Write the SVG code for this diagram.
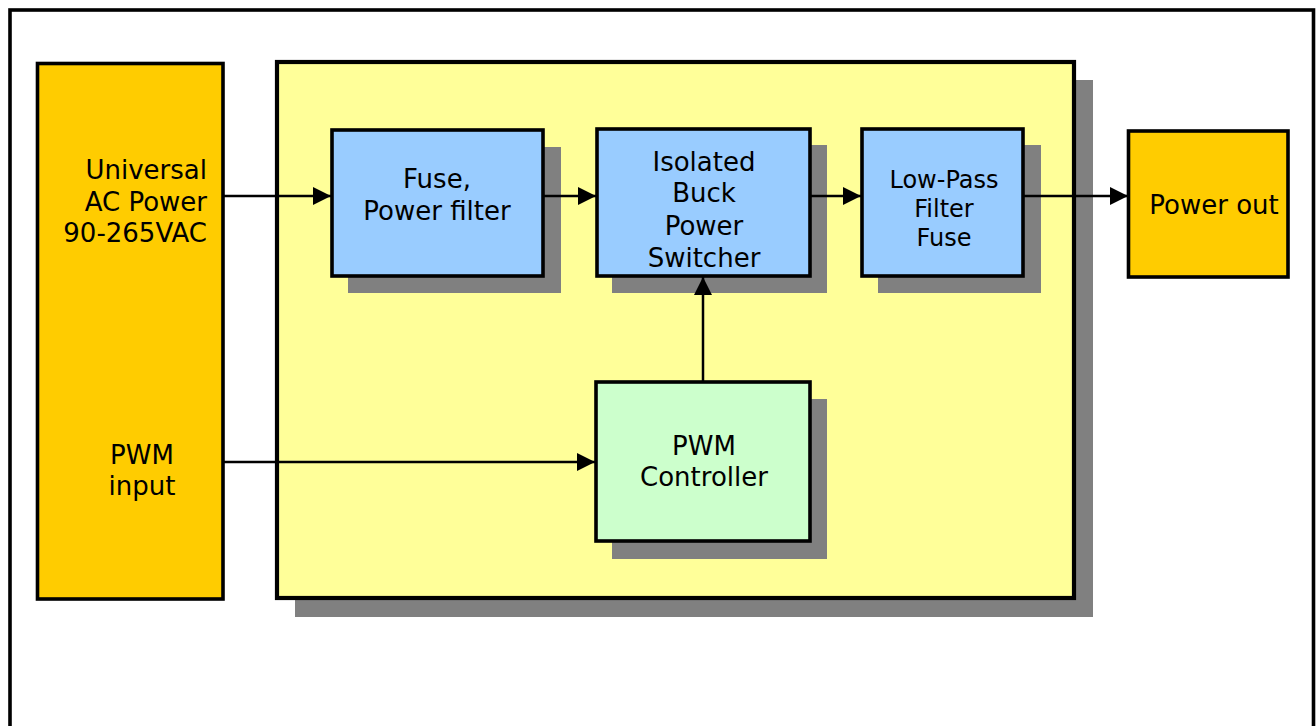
<svg xmlns="http://www.w3.org/2000/svg" width="1316" height="726" viewBox="0 0 1316 726">
<style>
  .box { stroke: #000; stroke-width: 3.6; }
  .shadow { fill: #808080; stroke: none; }
  .orange { fill: #FFCC00; }
  .yellow { fill: #FFFF99; stroke-width: 4.2; }
  .blue { fill: #99CCFF; }
  .green { fill: #CCFFCC; }
  .t { font-family: "DejaVu Sans", Verdana, sans-serif; font-size: 26px; fill: #000; }
  .ts { font-size: 24px; }
  .mid { text-anchor: middle; }
  .end { text-anchor: end; }
  .wire { stroke: #000; stroke-width: 2.5; fill: none; }
</style>
<defs>
  <marker id="arr" viewBox="0 0 18 18" refX="18" refY="9" markerWidth="18" markerHeight="18" markerUnits="userSpaceOnUse" orient="auto">
    <path d="M0,0 L18,9 L0,18 z" fill="#000"/>
  </marker>
</defs>
<rect x="0" y="0" width="1316" height="726" fill="#fff"/>
<rect id="frame" x="10" y="10" width="1303.5" height="800" fill="none" stroke="#000" stroke-width="3.6"/>

<g id="container">
  <rect class="shadow" x="295" y="80" width="798" height="537"/>
  <rect class="box yellow" x="277" y="62" width="797" height="536"/>
</g>

<g id="inputs">
  <rect class="box orange" x="37.5" y="63.5" width="185.5" height="535.5"/>
  <text class="t end" x="207" y="179">Universal</text>
  <text class="t end" x="207" y="210.5">AC Power</text>
  <text class="t end" x="207" y="242">90-265VAC</text>
  <text class="t mid" x="142" y="464">PWM</text>
  <text class="t mid" x="142" y="495">input</text>
</g>

<g id="fuse">
  <rect class="shadow" x="348" y="147" width="213" height="146"/>
  <rect class="box blue" x="332" y="130" width="211" height="146"/>
  <text class="t mid" x="437" y="188">Fuse,</text>
  <text class="t mid" x="437" y="220">Power filter</text>
</g>

<g id="buck">
  <rect class="shadow" x="612" y="145" width="215" height="148"/>
  <rect class="box blue" x="597" y="129" width="213" height="147"/>
  <text class="t mid" x="704" y="170.5">Isolated</text>
  <text class="t mid" x="704" y="202">Buck</text>
  <text class="t mid" x="704" y="235">Power</text>
  <text class="t mid" x="704" y="267">Switcher</text>
</g>

<g id="lowpass">
  <rect class="shadow" x="878" y="145" width="163" height="148"/>
  <rect class="box blue" x="862" y="129" width="161" height="147"/>
  <text class="t ts mid" x="944" y="188">Low-Pass</text>
  <text class="t ts mid" x="944" y="217">Filter</text>
  <text class="t ts mid" x="944" y="246">Fuse</text>
</g>

<g id="powerout">
  <rect class="box orange" x="1128.5" y="131" width="159.5" height="146"/>
  <text class="t mid" x="1214" y="214">Power out</text>
</g>

<g id="pwm">
  <rect class="shadow" x="612" y="399" width="215" height="160"/>
  <rect class="box green" x="596" y="382" width="214" height="159"/>
  <text class="t mid" x="704" y="455">PWM</text>
  <text class="t mid" x="704" y="486">Controller</text>
</g>

<g id="connectors">
  <line class="wire" x1="223" y1="196" x2="287" y2="196" stroke-width="2"/>
  <line class="wire" x1="287" y1="196" x2="331" y2="196" stroke-width="3.5" marker-end="url(#arr)"/>
  <line class="wire" x1="543" y1="196" x2="596" y2="196" stroke-width="3" marker-end="url(#arr)"/>
  <line class="wire" x1="810" y1="196" x2="861" y2="196" stroke-width="3" marker-end="url(#arr)"/>
  <line class="wire" x1="1023" y1="196" x2="1128" y2="196" marker-end="url(#arr)"/>
  <line class="wire" x1="223" y1="462" x2="595" y2="462" marker-end="url(#arr)"/>
  <line class="wire" x1="703" y1="381" x2="703" y2="277" stroke-width="3" marker-end="url(#arr)"/>
</g>
</svg>
